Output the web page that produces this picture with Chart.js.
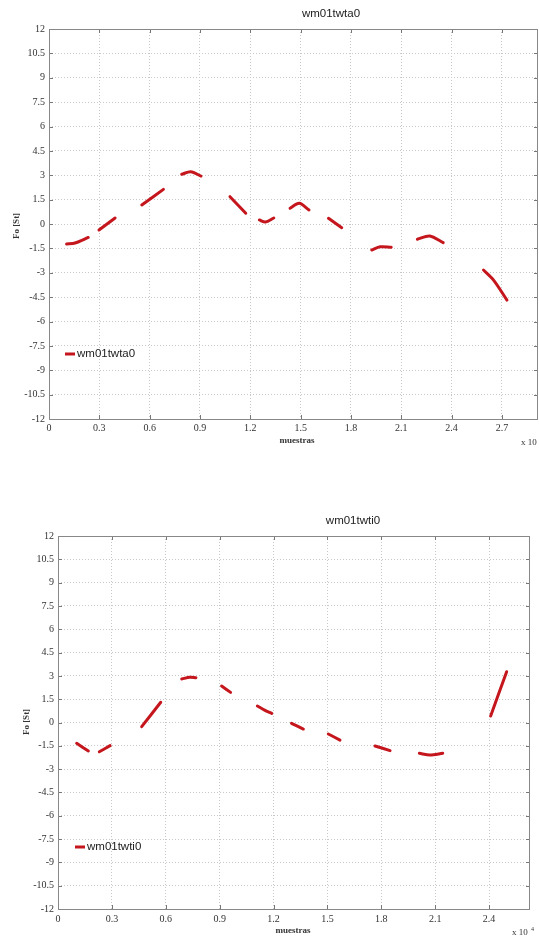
<!DOCTYPE html>
<html>
<head>
<meta charset="utf-8">
<script src="https://cdn.jsdelivr.net/npm/chart.js@4.4.0/dist/chart.umd.min.js"></script>
<style>
  html, body { margin: 0; padding: 0; background: #fff; }
  .box { position: absolute; left: 0; width: 539px; }
  #boxA { top: 0; height: 460px; }
  #boxB { top: 480px; height: 457px; }
</style>
</head>
<body>
<div class="box" id="boxA"><canvas id="chartA"></canvas></div>
<div class="box" id="boxB"><canvas id="chartB"></canvas></div>
<script>
const xTicks = [0, 0.3, 0.6, 0.9, 1.2, 1.5, 1.8, 2.1, 2.4, 2.7];
const yTicks = [-12, -10.5, -9, -7.5, -6, -4.5, -3, -1.5, 0, 1.5, 3, 4.5, 6, 7.5, 9, 10.5, 12];

// wm01twta0 -- muestras (x 10^4), null = tramo sin voz
const twtaX = [0.105, 0.155, 0.234, 0.27, 0.298, 0.394, 0.47, 0.553, 0.682, 0.74, 0.791, 0.845, 0.906, 1.0,
  1.079, 1.173, 1.21, 1.254, 1.29, 1.34, 1.39, 1.437, 1.492, 1.55, 1.6, 1.666, 1.745, 1.83,
  1.924, 1.974, 2.04, 2.12, 2.196, 2.27, 2.35, 2.47, 2.59, 2.65, 2.73];
const twtaY = [-1.23, -1.17, -0.83, null, -0.37, 0.37, null, 1.17, 2.13, null, 3.06, 3.22, 2.95, null,
  1.68, 0.66, null, 0.25, 0.12, 0.37, null, 0.97, 1.27, 0.86, null, 0.35, -0.23, null,
  -1.6, -1.4, -1.43, null, -0.94, -0.74, -1.15, null, -2.83, -3.45, -4.68];

// wm01twti0
const twtiX = [0.104, 0.169, 0.2, 0.23, 0.29, 0.38, 0.466, 0.572, 0.63, 0.689, 0.735, 0.768, 0.84,
  0.911, 0.961, 1.03, 1.11, 1.15, 1.19, 1.24, 1.30, 1.366, 1.43, 1.505, 1.57, 1.67, 1.765, 1.849, 1.93,
  2.012, 2.071, 2.142, 2.28, 2.409, 2.498];
const twtiY = [-1.34, -1.83, null, -1.88, -1.49, null, -0.27, 1.3, null, 2.8, 2.91, 2.88, null,
  2.35, 1.94, null, 1.06, 0.8, 0.59, null, -0.05, -0.42, null, -0.74, -1.13, null, -1.51, -1.81, null,
  -1.98, -2.09, -1.98, null, 0.42, 3.27];

const red = '#c4161c';
const serif = '"Liberation Serif", "DejaVu Serif", serif';
const sans = '"Liberation Sans", Arial, sans-serif';

// titulo, leyenda, etiquetas de ejes y marcas interiores (estilo matlab)
const frame = {
  id: 'frame',
  afterDraw(chart, args, o) {
    const ctx = chart.ctx, a = chart.chartArea;
    const sx = chart.scales.x, sy = chart.scales.y;
    ctx.save();
    ctx.strokeStyle = '#777';
    ctx.lineWidth = 1;
    ctx.beginPath();
    xTicks.filter(v => v <= sx.max).forEach(v => {
      const p = Math.round(sx.getPixelForValue(v)) + 0.5;
      ctx.moveTo(p, a.top); ctx.lineTo(p, a.top + 4);
      ctx.moveTo(p, a.bottom); ctx.lineTo(p, a.bottom - 4);
    });
    yTicks.forEach(v => {
      const p = Math.round(sy.getPixelForValue(v)) + 0.5;
      ctx.moveTo(a.left, p); ctx.lineTo(a.left + 4, p);
      ctx.moveTo(a.right, p); ctx.lineTo(a.right - 4, p);
    });
    ctx.stroke();
    ctx.strokeStyle = '#888';
    ctx.strokeRect(Math.round(a.left) + 0.5, Math.round(a.top) + 0.5,
      Math.round(a.right - a.left) - 1, Math.round(a.bottom - a.top));

    ctx.fillStyle = '#222';
    ctx.textBaseline = 'middle';
    ctx.textAlign = 'center';
    ctx.font = '11.5px ' + sans;
    ctx.fillText(o.title, o.titleX, o.titleY);

    // leyenda
    ctx.strokeStyle = red;
    ctx.lineWidth = 3;
    ctx.beginPath();
    ctx.moveTo(o.legX, o.legY); ctx.lineTo(o.legX + 10, o.legY);
    ctx.stroke();
    ctx.textAlign = 'left';
    ctx.fillText(o.title, o.legX + 12, o.legY);

    ctx.fillStyle = '#333';
    ctx.textAlign = 'center';
    ctx.font = 'bold 9px ' + serif;
    ctx.fillText('muestras', o.xlabX, o.xlabY);
    ctx.save();
    ctx.translate(o.ylabX, o.ylabY);
    ctx.rotate(-Math.PI / 2);
    ctx.fillText('Fo [St]', 0, 0);
    ctx.restore();

    ctx.textAlign = 'left';
    ctx.font = '9px ' + serif;
    ctx.fillText('x 10', o.expX, o.expY);
    ctx.font = '6px ' + serif;
    ctx.fillText('4', o.expX + 19, o.expY - 4);
    ctx.restore();
  }
};

function makeChart(id, xs, ys, label, lay) {
  const pts = xs.map((x, i) => ({ x: x, y: ys[i] }));
  return new Chart(document.getElementById(id), {
    type: 'line',
    data: {
      datasets: [{
        label: label,
        data: pts,
        borderColor: red,
        borderWidth: 3,
        borderCapStyle: 'round',
        pointRadius: 0,
        tension: 0.3,
        spanGaps: false
      }]
    },
    options: {
      responsive: true,
      maintainAspectRatio: false,
      animation: false,
      layout: { padding: lay.padding },
      plugins: {
        legend: { display: false },
        tooltip: { enabled: false },
        frame: lay.frame
      },
      scales: {
        x: {
          type: 'linear',
          min: 0,
          max: lay.xmax,
          afterBuildTicks: s => { s.ticks = xTicks.filter(v => v <= lay.xmax).map(v => ({ value: v })); },
          afterFit: s => { s.height = lay.xh; s.paddingRight = 0; },
          ticks: { font: { family: serif, size: 10 }, color: '#333', padding: lay.xpad, maxRotation: 0,
            callback: v => v === 0 ? '0' : v.toFixed(1) },
          grid: { color: '#c8c8c8', drawTicks: false },
          border: { display: false, dash: [1, 2] }
        },
        y: {
          min: -12,
          max: 12,
          afterBuildTicks: s => { s.ticks = yTicks.map(v => ({ value: v })); },
          afterFit: s => { s.width = lay.yw; },
          ticks: { font: { family: serif, size: 10 }, color: '#333', padding: 4,
            callback: v => String(v) },
          grid: { color: '#c8c8c8', drawTicks: false },
          border: { display: false, dash: [1, 2] }
        }
      }
    },
    plugins: [frame]
  });
}

makeChart('chartA', twtaX, twtaY, 'wm01twta0', {
  padding: { top: 29, right: 1, left: 0, bottom: 0 },
  xmax: 2.915, xh: 41, yw: 49, xpad: 3,
  frame: { title: 'wm01twta0', titleX: 331, titleY: 14, legX: 65, legY: 354,
    xlabX: 297, xlabY: 441, ylabX: 17, ylabY: 226, expX: 521, expY: 443 }
});

makeChart('chartB', twtiX, twtiY, 'wm01twti0', {
  padding: { top: 56, right: 9, left: 0, bottom: 0 },
  xmax: 2.628, xh: 28, yw: 58, xpad: 4,
  frame: { title: 'wm01twti0', titleX: 353, titleY: 41, legX: 75, legY: 367,
    xlabX: 293, xlabY: 451, ylabX: 27, ylabY: 242, expX: 512, expY: 453 }
});
</script>
</body>
</html>
